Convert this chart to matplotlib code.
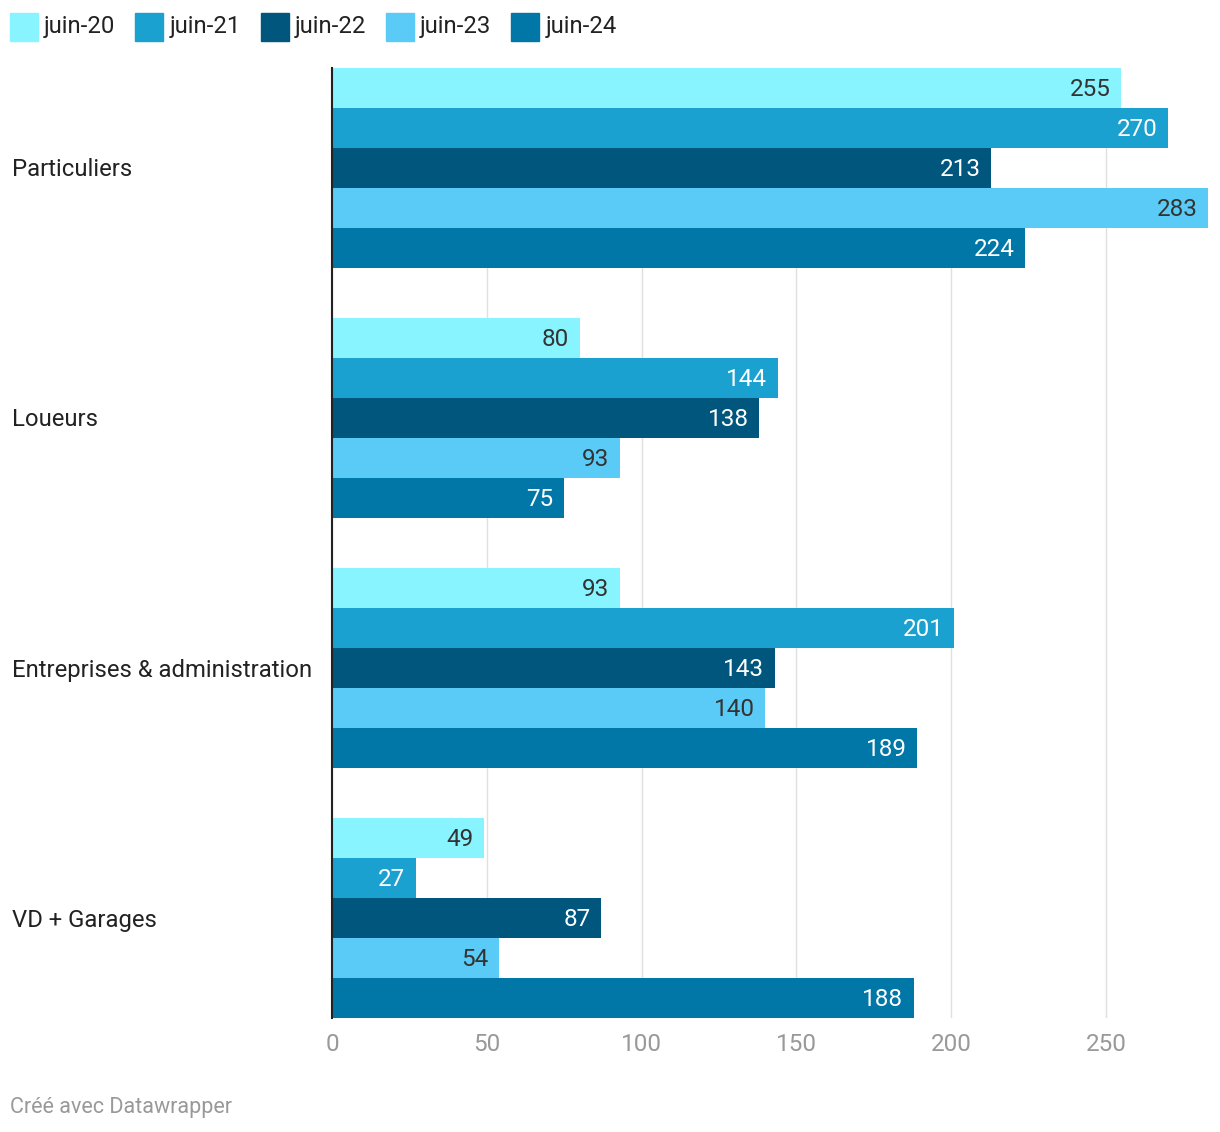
import matplotlib.pyplot as plt
from matplotlib.patches import Rectangle
from matplotlib.transforms import blended_transform_factory

plt.rcParams['font.family'] = ['Roboto', 'DejaVu Sans']

categories = ['Particuliers', 'Loueurs', 'Entreprises & administration',
              'VD + Garages']
series = ['juin-20', 'juin-21', 'juin-22', 'juin-23', 'juin-24']
values = {
    'juin-20': [255, 80, 93, 49],
    'juin-21': [270, 144, 201, 27],
    'juin-22': [213, 138, 143, 87],
    'juin-23': [283, 93, 140, 54],
    'juin-24': [224, 75, 189, 188],
}
colors = ['#88F4FF', '#1AA1CF', '#00567D', '#5ACBF6', '#0077A6']
label_colors = ['#333333', 'white', 'white', '#333333', 'white']
x_ticks = [0, 50, 100, 150, 200, 250]

W, H = 1220, 1132
fig = plt.figure(figsize=(W / 100, H / 100), dpi=100)
ax = fig.add_axes([332 / W, 1 - 1018 / H, (1208 - 332) / W, (1018 - 68) / H])

pitch = 6.25
for j, s in enumerate(series):
    ys = [i * pitch + j + 0.5 for i in range(len(categories))]
    ax.barh(ys, values[s], height=1.0, color=colors[j], zorder=2)
    for y, v in zip(ys, values[s]):
        ax.text(v - 3.4, y + 0.05, str(v), ha='right', va='center',
                fontsize=17.5, color=label_colors[j], zorder=3)

ax.set_xlim(0, 283)
ax.set_ylim((len(categories) - 1) * pitch + len(series), 0)
ax.set_xticks(x_ticks)
ax.set_xticklabels([str(t) for t in x_ticks], color='#999999', fontsize=17.5)
ax.tick_params(axis='x', length=0, pad=11)
ax.set_yticks([])
ax.grid(axis='x', color='#e0e0e0', linewidth=1, zorder=0)
for side in ['top', 'right', 'bottom']:
    ax.spines[side].set_visible(False)
ax.spines['left'].set_color('#222222')
ax.spines['left'].set_linewidth(1.5)
ax.spines['left'].set_zorder(4)

# category labels at left edge of figure
trans = blended_transform_factory(fig.transFigure, ax.transData)
for i, c in enumerate(categories):
    y_data = i * pitch + len(series) / 2 + 0.05
    ax.text(12 / W, y_data, c, transform=trans,
            fontsize=17.2, color='#222222', ha='left', va='center')

# legend drawn manually
renderer = fig.canvas.get_renderer()
x = 10
for j, s in enumerate(series):
    fig.patches.append(Rectangle((x / W, 1 - 41 / H), 28 / W, 28 / H,
                                 transform=fig.transFigure,
                                 color=colors[j]))
    t = fig.text((x + 34) / W, 1 - 27 / H, s, fontsize=17.2, color='#222222',
                 ha='left', va='center')
    bb = t.get_window_extent(renderer)
    x = bb.x1 + 20

fig.text(10 / W, 1 - 1107 / H, 'Créé avec Datawrapper', fontsize=15.5,
         color='#999999', ha='left', va='center')

fig.savefig('out.png', dpi=100)
